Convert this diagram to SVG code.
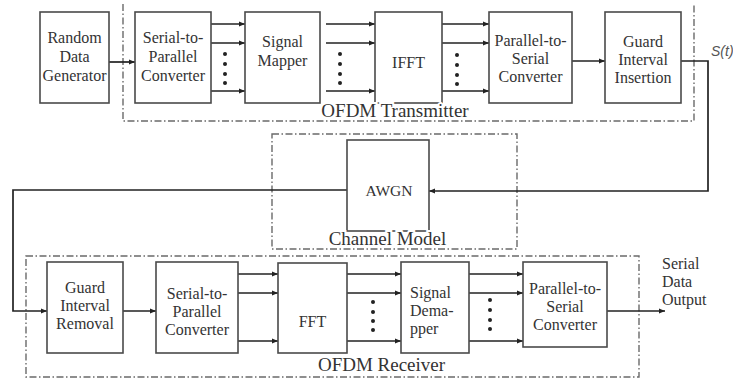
<svg xmlns="http://www.w3.org/2000/svg" width="733" height="383" viewBox="0 0 733 383">
<defs>
<marker id="ah" markerUnits="userSpaceOnUse" markerWidth="7" markerHeight="6" refX="6" refY="3" orient="auto">
<path d="M0,0.5 L6,3 L0,5.5 z" fill="#222"/>
</marker>
<style>
.box{fill:#fff;stroke:#4a4a4a;stroke-width:1.6}
.grp{fill:none;stroke:#6a6a6a;stroke-width:1.4;stroke-dasharray:7 2.5 1.5 2.5}
.t{font-family:"Liberation Serif","Times New Roman",serif;font-size:16px;fill:#333;text-anchor:middle}
.lbl{font-family:"Liberation Serif","Times New Roman",serif;font-size:19px;fill:#333;text-anchor:middle;stroke:#fff;stroke-width:4;paint-order:stroke}
.c{fill:none;stroke:#222;stroke-width:1.7}
.a{fill:none;stroke:#222;stroke-width:1.7;marker-end:url(#ah)}
.dot{fill:#222}
</style>
</defs>
<rect width="733" height="383" fill="#fff"/>

<g id="groups">
<path class="grp" d="M123,4 V121 H694 V4"/>
<rect class="grp" x="272" y="134" width="245" height="115"/>
<rect class="grp" x="26" y="256" width="613" height="121"/>
</g>

<g id="connectors">
<line class="a" x1="109" y1="62" x2="135" y2="62"/>
<line class="a" x1="211" y1="24" x2="245" y2="24"/>
<line class="a" x1="211" y1="43" x2="245" y2="43"/>
<line class="a" x1="211" y1="91" x2="245" y2="91"/>
<line class="a" x1="326" y1="24" x2="375" y2="24"/>
<line class="a" x1="326" y1="43" x2="375" y2="43"/>
<line class="a" x1="326" y1="91" x2="375" y2="91"/>
<line class="a" x1="442" y1="24" x2="489" y2="24"/>
<line class="a" x1="442" y1="43" x2="489" y2="43"/>
<line class="a" x1="442" y1="91" x2="489" y2="91"/>
<line class="a" x1="572" y1="61" x2="605" y2="61"/>
<path class="a" d="M681,61 H708 V191 H429"/>
<path class="a" d="M347,190 H13 V311 H47"/>
<line class="a" x1="123" y1="311" x2="156" y2="311"/>
<line class="a" x1="238" y1="274" x2="278" y2="274"/>
<line class="a" x1="238" y1="293" x2="278" y2="293"/>
<line class="a" x1="238" y1="341" x2="278" y2="341"/>
<line class="a" x1="347" y1="274" x2="401" y2="274"/>
<line class="a" x1="347" y1="293" x2="401" y2="293"/>
<line class="a" x1="347" y1="341" x2="401" y2="341"/>
<line class="a" x1="469" y1="274" x2="523" y2="274"/>
<line class="a" x1="469" y1="293" x2="523" y2="293"/>
<line class="a" x1="469" y1="341" x2="523" y2="341"/>
<line class="a" x1="607" y1="311" x2="665" y2="311"/>
<g id="ellipses">
<circle class="dot" cx="225" cy="54" r="2"/><circle class="dot" cx="225" cy="64" r="2"/><circle class="dot" cx="225" cy="74" r="2"/><circle class="dot" cx="225" cy="83" r="2"/>
<circle class="dot" cx="340" cy="54" r="2"/><circle class="dot" cx="340" cy="64" r="2"/><circle class="dot" cx="340" cy="74" r="2"/><circle class="dot" cx="340" cy="83" r="2"/>
<circle class="dot" cx="457" cy="55" r="2"/><circle class="dot" cx="457" cy="65" r="2"/><circle class="dot" cx="457" cy="75" r="2"/><circle class="dot" cx="457" cy="84" r="2"/>
<circle class="dot" cx="373" cy="302" r="2"/><circle class="dot" cx="373" cy="312" r="2"/><circle class="dot" cx="373" cy="321" r="2"/><circle class="dot" cx="373" cy="330" r="2"/>
<circle class="dot" cx="490" cy="300" r="2"/><circle class="dot" cx="490" cy="310" r="2"/><circle class="dot" cx="490" cy="320" r="2"/><circle class="dot" cx="490" cy="329" r="2"/>
</g>
</g>

<g id="rdg">
<rect class="box" x="40" y="12" width="69" height="91"/>
<text class="t" x="74.5" y="43">Random</text>
<text class="t" x="74.5" y="62">Data</text>
<text class="t" x="74.5" y="81">Generator</text>
</g>
<g id="tx-s2p">
<rect class="box" x="135" y="12" width="76" height="91"/>
<text class="t" x="173" y="43">Serial-to-</text>
<text class="t" x="173" y="62">Parallel</text>
<text class="t" x="173" y="81">Converter</text>
</g>
<g id="mapper">
<rect class="box" x="245" y="12" width="75" height="91"/>
<text class="t" x="282.5" y="47">Signal</text>
<text class="t" x="282.5" y="66">Mapper</text>
</g>
<g id="ifft">
<rect class="box" x="375" y="12" width="67" height="91"/>
<text class="t" x="408.5" y="68">IFFT</text>
</g>
<g id="tx-p2s">
<rect class="box" x="489" y="12" width="83" height="91"/>
<text class="t" x="530.5" y="46">Parallel-to-</text>
<text class="t" x="530.5" y="64">Serial</text>
<text class="t" x="530.5" y="82">Converter</text>
</g>
<g id="gi-ins">
<rect class="box" x="605" y="12" width="76" height="91"/>
<text class="t" x="643" y="47">Guard</text>
<text class="t" x="643" y="65">Interval</text>
<text class="t" x="643" y="83">Insertion</text>
</g>
<text x="711" y="56" font-family="Liberation Sans, Arial, sans-serif" font-size="14" font-style="italic" fill="#555">S(t)</text>
<text class="lbl" x="395" y="117">OFDM Transmitter</text>

<g id="awgn">
<rect class="box" x="347" y="140" width="82" height="91"/>
<text class="t" x="389" y="196" style="font-size:15.5px">AWGN</text>
</g>
<text class="lbl" x="387.5" y="245">Channel Model</text>

<g id="gi-rem">
<rect class="box" x="47" y="262" width="76" height="91"/>
<text class="t" x="85" y="293">Guard</text>
<text class="t" x="85" y="311">Interval</text>
<text class="t" x="85" y="329">Removal</text>
</g>
<g id="rx-s2p">
<rect class="box" x="156" y="262" width="82" height="91"/>
<text class="t" x="197" y="299">Serial-to-</text>
<text class="t" x="197" y="317">Parallel</text>
<text class="t" x="197" y="335">Converter</text>
</g>
<g id="fft">
<rect class="box" x="278" y="263" width="69" height="90"/>
<text class="t" x="312.5" y="327">FFT</text>
</g>
<g id="demapper">
<rect class="box" x="401" y="262" width="68" height="91"/>
<text class="t" x="410" y="298" style="text-anchor:start">Signal</text>
<text class="t" x="410" y="316" style="text-anchor:start">Dema-</text>
<text class="t" x="410" y="334" style="text-anchor:start">pper</text>
</g>
<g id="rx-p2s">
<rect class="box" x="523" y="262" width="84" height="85"/>
<text class="t" x="565" y="294">Parallel-to-</text>
<text class="t" x="565" y="312">Serial</text>
<text class="t" x="565" y="330">Converter</text>
</g>
<text class="lbl" x="381.5" y="371">OFDM Receiver</text>
<g id="output-label">
<text class="t" x="662" y="269" style="text-anchor:start">Serial</text>
<text class="t" x="662" y="287" style="text-anchor:start">Data</text>
<text class="t" x="662" y="305" style="text-anchor:start">Output</text>
</g>
</svg>
